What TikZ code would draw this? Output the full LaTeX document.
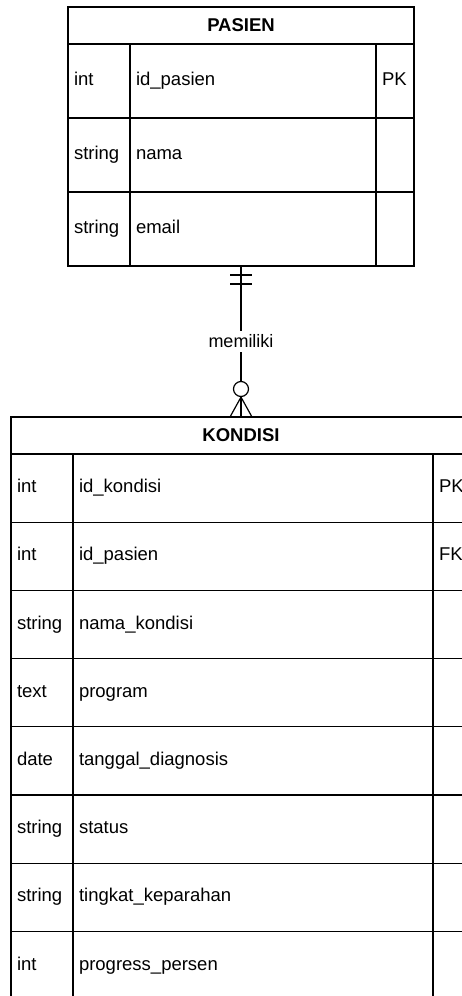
\documentclass[tikz,border=0pt]{standalone}
\usepackage{fontspec}
\setmainfont{Liberation Sans}
\tikzset{>=latex}
\usetikzlibrary{positioning}
\tikzset{
  tblhead/.style={draw, rectangle, anchor=north west, outer sep=0pt, inner sep=0pt, minimum height=37pt, font=\fontsize{18.5}{22}\selectfont\bfseries},
  cell/.style={draw, rectangle, anchor=north west, outer sep=0pt, inner xsep=6pt, inner ysep=0pt, text height=13pt, text depth=4pt, align=left, font=\fontsize{18.5}{22}\selectfont},
}

\begin{document}
\begin{tikzpicture}[x=1pt, y=-1pt, line width=1.2pt]
      \useasboundingbox (0,0) rectangle (462,996);
      \node[tblhead, minimum width=346pt] (pasien) at (68,7) {PASIEN};
      \foreach \typ/\nam/\key [count=\i] in {int/id\_pasien/PK, string/nama/, string/email/} {
        \node[cell, text width=50pt, minimum height=74pt] (pt\i) at (68,{44+(\i-1)*74}) {\typ};
        \node[cell, text width=234pt, minimum height=74pt, right=0pt of pt\i] (pn\i) {\nam};
        \node[cell, text width=26pt, minimum height=74pt, right=0pt of pn\i] (pk\i) {\key};
      }
      \node[tblhead, minimum width=460pt] (kondisi) at (11,417) {KONDISI};
      \foreach \typ/\nam/\key [count=\i] in {int/id\_kondisi/PK, int/id\_pasien/FK, string/nama\_kondisi/, text/program/, date/tanggal\_diagnosis/, string/status/, string/tingkat\_keparahan/, int/progress\_persen/} {
        \node[cell, text width=50pt, minimum height=68.2pt] (kt\i) at (11,{454+(\i-1)*68.2}) {\typ};
        \node[cell, text width=348pt, minimum height=68.2pt, right=0pt of kt\i] (kn\i) {\nam};
        \node[cell, text width=26pt, minimum height=68.2pt, right=0pt of kn\i] (kk\i) {\key};
      }
      \coordinate (one) at (pasien |- pn3.south);
      \coordinate (many) at (kondisi.north);
      \draw (one) -- (many) node[midway, fill=white, inner sep=3.5pt, font=\fontsize{18}{20}\selectfont] (rel) {memiliki};
      \draw ([shift={(-11,9)}]one) -- ([shift={(11,9)}]one);
      \draw ([shift={(-11,18)}]one) -- ([shift={(11,18)}]one);
      \node[draw, circle, fill=white, minimum size=15pt, inner sep=0pt] (opt) at ([shift={(0,-28)}]many) {};
      \draw ([shift={(-11,0)}]many) -- (opt.south) -- ([shift={(11,0)}]many);
    \end{tikzpicture}
\end{document}
